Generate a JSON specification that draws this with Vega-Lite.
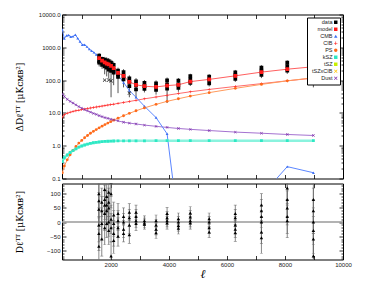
{
  "$schema": "https://vega.github.io/schema/vega-lite/v6.json",
  "background": "white",
  "padding": {"left": 14, "top": 10.5, "right": 5, "bottom": 5},
  "spacing": 0,
  "config": {
    "view": {"stroke": "black", "strokeWidth": 1},
    "axis": {"grid": false, "domain": false, "tickColor": "black", "tickSize": -4, "tickWidth": 0.8, "labelFont": "Liberation Sans", "labelFontSize": 6, "labelColor": "#222", "labelPadding": 6, "labelFlush": false, "titleFont": "DejaVu Serif", "titleFontWeight": "normal", "titleFontSize": 9, "titleColor": "black"}
  },
  "datasets": {
    "d": [
      {"l":1600,"v":560,"lo":470,"hi":660},{"l":1600,"v":460,"lo":380,"hi":550},{"l":1600,"v":380,"lo":300,"hi":460},{"l":1600,"v":340,"lo":260,"hi":420},
      {"l":1700,"v":440,"lo":360,"hi":520},{"l":1700,"v":350,"lo":280,"hi":420},{"l":1700,"v":290,"lo":220,"hi":360},
      {"l":1790,"v":420,"lo":330,"hi":510},{"l":1790,"v":320,"lo":240,"hi":400},{"l":1790,"v":260,"lo":150,"hi":350},
      {"l":1860,"v":400,"lo":310,"hi":490},{"l":1860,"v":310,"lo":230,"hi":390},{"l":1860,"v":240,"lo":130,"hi":330},
      {"l":1930,"v":380,"lo":290,"hi":470},{"l":1930,"v":280,"lo":200,"hi":360},{"l":1930,"v":210,"lo":110,"hi":300},
      {"l":2010,"v":340,"lo":260,"hi":420},{"l":2010,"v":250,"lo":180,"hi":320},{"l":2010,"v":190,"lo":30,"hi":270},
      {"l":2100,"v":290,"lo":210,"hi":370},{"l":2100,"v":210,"lo":140,"hi":280},{"l":2100,"v":170,"lo":70,"hi":240},
      {"l":2250,"v":195,"lo":155,"hi":240},{"l":2250,"v":150,"lo":110,"hi":190},{"l":2250,"v":125,"lo":40,"hi":175},
      {"l":2440,"v":175,"lo":140,"hi":215},{"l":2440,"v":135,"lo":100,"hi":170},{"l":2440,"v":105,"lo":60,"hi":145},
      {"l":2640,"v":112,"lo":85,"hi":140},{"l":2640,"v":88,"lo":62,"hi":112},{"l":2640,"v":65,"lo":30,"hi":100},
      {"l":2870,"v":92,"lo":72,"hi":115},{"l":2870,"v":70,"lo":52,"hi":90},{"l":2870,"v":52,"lo":28,"hi":78},
      {"l":3160,"v":82,"lo":66,"hi":100},{"l":3160,"v":66,"lo":52,"hi":82},{"l":3160,"v":54,"lo":42,"hi":68},
      {"l":3560,"v":80,"lo":64,"hi":98},{"l":3560,"v":64,"lo":50,"hi":80},{"l":3560,"v":50,"lo":36,"hi":64},
      {"l":3940,"v":98,"lo":78,"hi":120},{"l":3940,"v":74,"lo":58,"hi":92},{"l":3940,"v":55,"lo":20,"hi":80},
      {"l":4330,"v":96,"lo":78,"hi":116},{"l":4330,"v":74,"lo":60,"hi":90},{"l":4330,"v":58,"lo":44,"hi":72},
      {"l":4740,"v":132,"lo":110,"hi":156},{"l":4740,"v":104,"lo":86,"hi":124},{"l":4740,"v":82,"lo":66,"hi":98},
      {"l":5390,"v":128,"lo":106,"hi":152},{"l":5390,"v":102,"lo":84,"hi":122},{"l":5390,"v":80,"lo":64,"hi":96},
      {"l":6290,"v":172,"lo":142,"hi":204},{"l":6290,"v":140,"lo":116,"hi":166},{"l":6290,"v":108,"lo":88,"hi":130},
      {"l":7190,"v":240,"lo":200,"hi":285},{"l":7190,"v":195,"lo":160,"hi":232},{"l":7190,"v":145,"lo":115,"hi":175},
      {"l":8080,"v":340,"lo":285,"hi":400},{"l":8080,"v":265,"lo":215,"hi":315},{"l":8080,"v":195,"lo":155,"hi":235},
      {"l":8980,"v":290,"lo":225,"hi":360},{"l":8980,"v":225,"lo":165,"hi":295},{"l":8980,"v":150,"lo":60,"hi":220}
    ],
    "m": [
      {"l":1600,"v":470},{"l":1700,"v":390},{"l":1790,"v":350},{"l":1860,"v":320},{"l":1930,"v":300},{"l":2010,"v":270},{"l":2100,"v":230},{"l":2250,"v":165},{"l":2440,"v":135},{"l":2640,"v":88},{"l":2870,"v":72},{"l":3160,"v":65},{"l":3560,"v":62},{"l":3940,"v":68},{"l":4330,"v":72},{"l":4740,"v":90},{"l":5390,"v":105},{"l":6290,"v":135},{"l":7190,"v":175},{"l":8080,"v":215},{"l":8980,"v":255}
    ],
    "xs": [
      {"l":1790,"v":100},{"l":1930,"v":100},{"l":2010,"v":95},{"l":2640,"v":40}
    ],
    "c": [
      {"s":"CMB","g":1,"l":330,"v":3500},{"s":"CMB","g":1,"l":400,"v":1850},{"s":"CMB","g":1,"l":480,"v":2300},{"s":"CMB","g":1,"l":550,"v":2350},{"s":"CMB","g":1,"l":620,"v":2100},{"s":"CMB","g":1,"l":700,"v":2150},{"s":"CMB","g":1,"l":780,"v":2400},{"s":"CMB","g":1,"l":860,"v":1900},{"s":"CMB","g":1,"l":940,"v":1500},{"s":"CMB","g":1,"l":1020,"v":1200},{"s":"CMB","g":1,"l":1100,"v":1200},{"s":"CMB","g":1,"l":1180,"v":1050},{"s":"CMB","g":1,"l":1260,"v":880},{"s":"CMB","g":1,"l":1340,"v":780},{"s":"CMB","g":1,"l":1420,"v":700},{"s":"CMB","g":1,"l":1500,"v":600},{"s":"CMB","g":1,"l":1580,"v":540},{"s":"CMB","g":1,"l":1660,"v":420},{"s":"CMB","g":1,"l":1740,"v":340},{"s":"CMB","g":1,"l":1820,"v":300},{"s":"CMB","g":1,"l":1900,"v":260},{"s":"CMB","g":1,"l":1980,"v":225},{"s":"CMB","g":1,"l":2100,"v":190},{"s":"CMB","g":1,"l":2250,"v":140},{"s":"CMB","g":1,"l":2440,"v":85},{"s":"CMB","g":1,"l":2640,"v":48},{"s":"CMB","g":1,"l":2870,"v":30},{"s":"CMB","g":1,"l":3160,"v":16},{"s":"CMB","g":1,"l":3560,"v":7.2},{"s":"CMB","g":1,"l":3940,"v":2.3},{"s":"CMB","g":1,"l":4330,"v":0.004},{"s":"CMB","g":2,"l":7190,"v":0.03},{"s":"CMB","g":2,"l":8080,"v":0.23},{"s":"CMB","g":2,"l":8980,"v":0.15},
      {"s":"CIB","l":330,"v":7.5},{"s":"CIB","l":400,"v":8.8},{"s":"CIB","l":500,"v":9.8},{"s":"CIB","l":600,"v":10.5},{"s":"CIB","l":700,"v":11.1},{"s":"CIB","l":800,"v":11.6},{"s":"CIB","l":900,"v":12.1},{"s":"CIB","l":1000,"v":12.6},{"s":"CIB","l":1100,"v":13.1},{"s":"CIB","l":1200,"v":13.6},{"s":"CIB","l":1300,"v":14.1},{"s":"CIB","l":1400,"v":14.6},{"s":"CIB","l":1500,"v":15.1},{"s":"CIB","l":1600,"v":15.6},{"s":"CIB","l":1700,"v":16.1},{"s":"CIB","l":1800,"v":16.7},{"s":"CIB","l":1900,"v":17.3},{"s":"CIB","l":2000,"v":17.9},{"s":"CIB","l":2100,"v":18.5},{"s":"CIB","l":2250,"v":19.5},{"s":"CIB","l":2440,"v":20.8},{"s":"CIB","l":2640,"v":22.3},{"s":"CIB","l":2870,"v":24.2},{"s":"CIB","l":3160,"v":26.8},{"s":"CIB","l":3560,"v":30.5},{"s":"CIB","l":3940,"v":34.5},{"s":"CIB","l":4330,"v":39},{"s":"CIB","l":4740,"v":44},{"s":"CIB","l":5390,"v":52},{"s":"CIB","l":6290,"v":64},{"s":"CIB","l":7190,"v":78},{"s":"CIB","l":8080,"v":95},{"s":"CIB","l":8980,"v":115},
      {"s":"PS","l":330,"v":0.15},{"s":"PS","l":400,"v":0.24},{"s":"PS","l":500,"v":0.37},{"s":"PS","l":600,"v":0.53},{"s":"PS","l":700,"v":0.72},{"s":"PS","l":800,"v":0.95},{"s":"PS","l":900,"v":1.2},{"s":"PS","l":1000,"v":1.45},{"s":"PS","l":1100,"v":1.75},{"s":"PS","l":1200,"v":2.05},{"s":"PS","l":1300,"v":2.4},{"s":"PS","l":1400,"v":2.75},{"s":"PS","l":1500,"v":3.1},{"s":"PS","l":1600,"v":3.5},{"s":"PS","l":1700,"v":3.95},{"s":"PS","l":1800,"v":4.4},{"s":"PS","l":1900,"v":4.9},{"s":"PS","l":2000,"v":5.4},{"s":"PS","l":2100,"v":6.0},{"s":"PS","l":2250,"v":6.9},{"s":"PS","l":2440,"v":8.2},{"s":"PS","l":2640,"v":9.7},{"s":"PS","l":2870,"v":11.6},{"s":"PS","l":3160,"v":14.2},{"s":"PS","l":3560,"v":18.2},{"s":"PS","l":3940,"v":22.5},{"s":"PS","l":4330,"v":27},{"s":"PS","l":4740,"v":32.5},{"s":"PS","l":5390,"v":41.5},{"s":"PS","l":6290,"v":56},{"s":"PS","l":7190,"v":74},{"s":"PS","l":8080,"v":95},{"s":"PS","l":8980,"v":118},
      {"s":"kSZ","l":330,"v":0.33},{"s":"kSZ","l":400,"v":0.43},{"s":"kSZ","l":500,"v":0.52},{"s":"kSZ","l":600,"v":0.62},{"s":"kSZ","l":700,"v":0.71},{"s":"kSZ","l":800,"v":0.8},{"s":"kSZ","l":900,"v":0.9},{"s":"kSZ","l":1000,"v":0.98},{"s":"kSZ","l":1100,"v":1.05},{"s":"kSZ","l":1200,"v":1.12},{"s":"kSZ","l":1300,"v":1.18},{"s":"kSZ","l":1400,"v":1.23},{"s":"kSZ","l":1500,"v":1.27},{"s":"kSZ","l":1600,"v":1.3},{"s":"kSZ","l":1700,"v":1.33},{"s":"kSZ","l":1800,"v":1.35},{"s":"kSZ","l":1900,"v":1.37},{"s":"kSZ","l":2000,"v":1.38},{"s":"kSZ","l":2100,"v":1.39},{"s":"kSZ","l":2250,"v":1.4},{"s":"kSZ","l":2440,"v":1.4},{"s":"kSZ","l":2640,"v":1.41},{"s":"kSZ","l":2870,"v":1.41},{"s":"kSZ","l":3160,"v":1.41},{"s":"kSZ","l":3560,"v":1.42},{"s":"kSZ","l":3940,"v":1.42},{"s":"kSZ","l":4330,"v":1.42},{"s":"kSZ","l":4740,"v":1.42},{"s":"kSZ","l":5390,"v":1.42},{"s":"kSZ","l":6290,"v":1.42},{"s":"kSZ","l":7190,"v":1.42},{"s":"kSZ","l":8080,"v":1.42},{"s":"kSZ","l":8980,"v":1.42},
      {"s":"Dust","l":330,"v":38},{"s":"Dust","l":400,"v":32},{"s":"Dust","l":500,"v":26},{"s":"Dust","l":600,"v":22.5},{"s":"Dust","l":700,"v":20},{"s":"Dust","l":800,"v":17.5},{"s":"Dust","l":900,"v":15.5},{"s":"Dust","l":1000,"v":14},{"s":"Dust","l":1100,"v":12.6},{"s":"Dust","l":1200,"v":11.5},{"s":"Dust","l":1300,"v":10.5},{"s":"Dust","l":1400,"v":9.7},{"s":"Dust","l":1500,"v":9.0},{"s":"Dust","l":1600,"v":8.3},{"s":"Dust","l":1700,"v":7.7},{"s":"Dust","l":1800,"v":7.2},{"s":"Dust","l":1900,"v":6.8},{"s":"Dust","l":2000,"v":6.4},{"s":"Dust","l":2100,"v":6.1},{"s":"Dust","l":2250,"v":5.7},{"s":"Dust","l":2440,"v":5.2},{"s":"Dust","l":2640,"v":4.9},{"s":"Dust","l":2870,"v":4.6},{"s":"Dust","l":3160,"v":4.25},{"s":"Dust","l":3560,"v":3.9},{"s":"Dust","l":3940,"v":3.6},{"s":"Dust","l":4330,"v":3.35},{"s":"Dust","l":4740,"v":3.15},{"s":"Dust","l":5390,"v":2.9},{"s":"Dust","l":6290,"v":2.6},{"s":"Dust","l":7190,"v":2.4},{"s":"Dust","l":8080,"v":2.2},{"s":"Dust","l":8980,"v":2.05}
    ],
    "r": [
      {"l":1590,"v":100,"lo":40,"hi":160},{"l":1590,"v":75,"lo":15,"hi":135},{"l":1590,"v":45,"lo":-15,"hi":105},{"l":1590,"v":-10,"lo":-70,"hi":50},{"l":1590,"v":-40,"lo":-100,"hi":20},{"l":1590,"v":-85,"lo":-145,"hi":-25},
      {"l":1690,"v":70,"lo":20,"hi":120},{"l":1690,"v":40,"lo":-10,"hi":90},{"l":1690,"v":-5,"lo":-60,"hi":50},{"l":1690,"v":-60,"lo":-120,"hi":0},
      {"l":1790,"v":115,"lo":55,"hi":175},{"l":1790,"v":80,"lo":30,"hi":130},{"l":1790,"v":60,"lo":10,"hi":110},{"l":1790,"v":30,"lo":-30,"hi":90},{"l":1790,"v":-20,"lo":-80,"hi":40},
      {"l":1860,"v":90,"lo":40,"hi":140},{"l":1860,"v":60,"lo":10,"hi":110},{"l":1860,"v":40,"lo":-10,"hi":90},{"l":1860,"v":-5,"lo":-55,"hi":45},
      {"l":1930,"v":105,"lo":55,"hi":155},{"l":1930,"v":70,"lo":20,"hi":120},{"l":1930,"v":50,"lo":0,"hi":100},{"l":1930,"v":0,"lo":-50,"hi":50},{"l":1930,"v":-30,"lo":-80,"hi":20},
      {"l":2010,"v":140,"lo":90,"hi":190},{"l":2010,"v":100,"lo":50,"hi":150},{"l":2010,"v":10,"lo":-40,"hi":60},{"l":2010,"v":-20,"lo":-70,"hi":30},{"l":2010,"v":-120,"lo":-170,"hi":-70},
      {"l":2100,"v":25,"lo":-20,"hi":70},{"l":2100,"v":-5,"lo":-50,"hi":40},{"l":2100,"v":-40,"lo":-85,"hi":5},{"l":2100,"v":-65,"lo":-110,"hi":-20},
      {"l":2250,"v":30,"lo":-5,"hi":65},{"l":2250,"v":5,"lo":-30,"hi":40},{"l":2250,"v":-20,"lo":-55,"hi":15},{"l":2250,"v":-50,"lo":-85,"hi":-15},
      {"l":2440,"v":20,"lo":-10,"hi":50},{"l":2440,"v":0,"lo":-30,"hi":30},{"l":2440,"v":-25,"lo":-55,"hi":5},{"l":2440,"v":-40,"lo":-70,"hi":-10},
      {"l":2640,"v":35,"lo":5,"hi":65},{"l":2640,"v":15,"lo":-15,"hi":45},{"l":2640,"v":-10,"lo":-40,"hi":20},{"l":2640,"v":-45,"lo":-75,"hi":-15},
      {"l":2870,"v":35,"lo":10,"hi":60},{"l":2870,"v":20,"lo":-5,"hi":45},{"l":2870,"v":5,"lo":-20,"hi":30},{"l":2870,"v":-5,"lo":-30,"hi":20},
      {"l":3160,"v":5,"lo":-12,"hi":22},{"l":3160,"v":-3,"lo":-20,"hi":14},{"l":3160,"v":-8,"lo":-25,"hi":9},
      {"l":3560,"v":5,"lo":-15,"hi":25},{"l":3560,"v":-10,"lo":-30,"hi":10},{"l":3560,"v":-25,"lo":-45,"hi":-5},{"l":3560,"v":-38,"lo":-58,"hi":-18},
      {"l":3940,"v":30,"lo":8,"hi":52},{"l":3940,"v":15,"lo":-7,"hi":37},{"l":3940,"v":5,"lo":-17,"hi":27},{"l":3940,"v":-3,"lo":-25,"hi":19},
      {"l":4330,"v":12,"lo":-8,"hi":32},{"l":4330,"v":0,"lo":-20,"hi":20},{"l":4330,"v":-12,"lo":-32,"hi":8},{"l":4330,"v":-22,"lo":-42,"hi":-2},
      {"l":4740,"v":32,"lo":10,"hi":54},{"l":4740,"v":18,"lo":-4,"hi":40},{"l":4740,"v":5,"lo":-17,"hi":27},{"l":4740,"v":-3,"lo":-25,"hi":19},
      {"l":5390,"v":12,"lo":-8,"hi":32},{"l":5390,"v":0,"lo":-20,"hi":20},{"l":5390,"v":-20,"lo":-40,"hi":0},{"l":5390,"v":-35,"lo":-55,"hi":-15},
      {"l":6290,"v":30,"lo":0,"hi":60},{"l":6290,"v":15,"lo":-15,"hi":45},{"l":6290,"v":-10,"lo":-40,"hi":20},{"l":6290,"v":-25,"lo":-55,"hi":5},{"l":6290,"v":-38,"lo":-68,"hi":-8},
      {"l":7190,"v":60,"lo":20,"hi":100},{"l":7190,"v":40,"lo":0,"hi":80},{"l":7190,"v":20,"lo":-20,"hi":60},{"l":7190,"v":0,"lo":-40,"hi":40},{"l":7190,"v":-35,"lo":-75,"hi":5},{"l":7190,"v":-55,"lo":-110,"hi":0},
      {"l":8080,"v":120,"lo":60,"hi":180},{"l":8080,"v":80,"lo":20,"hi":140},{"l":8080,"v":50,"lo":-10,"hi":110},{"l":8080,"v":20,"lo":-40,"hi":80},{"l":8080,"v":5,"lo":-55,"hi":65},
      {"l":8980,"v":80,"lo":0,"hi":160},{"l":8980,"v":40,"lo":-40,"hi":120},{"l":8980,"v":0,"lo":-80,"hi":80},{"l":8980,"v":-30,"lo":-110,"hi":50},{"l":8980,"v":-60,"lo":-140,"hi":20},{"l":8980,"v":-120,"lo":-200,"hi":-40}
    ]
  },
  "vconcat": [
    {
      "width": 281,
      "height": 164,
      "layer": [
        {
          "data": {"name": "d"},
          "mark": {"type": "rule", "color": "#555555", "strokeWidth": 1, "clip": true},
          "encoding": {
            "x": {"field": "l", "type": "quantitative", "scale": {"domain": [320, 10000], "nice": false, "zero": false}, "axis": {"orient": "bottom", "labels": false, "title": null, "values": [1000,2000,3000,4000,5000,6000,7000,8000,9000]}},
            "y": {"field": "lo", "type": "quantitative", "scale": {"type": "log", "domain": [0.1, 10000], "nice": false}, "axis": {"orient": "left", "values": [0.1,1,10,100,1000,10000], "labelExpr": "format(datum.value, '.1f')", "title": "ΔDℓᵀᵀ [μKᴄᴍʙ²]", "titlePadding": 14}},
            "y2": {"field": "hi"}
          }
        },
        {
          "data": {"name": "c"},
          "transform": [{"filter": "datum.s == 'CIB' || datum.s == 'PS' || datum.s == 'Dust'"}],
          "mark": {"type": "line", "strokeWidth": 1, "clip": true},
          "encoding": {
            "x": {"field": "l", "type": "quantitative", "scale": {"domain": [320, 10000], "nice": false, "zero": false}, "axis": {"orient": "top", "labels": false, "title": null, "values": [1000,2000,3000,4000,5000,6000,7000,8000,9000]}},
            "y": {"field": "v", "type": "quantitative", "scale": {"type": "log", "domain": [0.1, 10000], "nice": false}, "axis": {"orient": "right", "labels": false, "title": null, "values": [0.1,1,10,100,1000,10000]}},
            "stroke": {"field": "s", "type": "nominal", "scale": {"domain": ["CIB","PS","Dust"], "range": ["#ff6b6b","#ff9a5c","#a472d0"]}, "legend": null}
          }
        },
        {
          "data": {"name": "c"},
          "transform": [{"filter": "datum.s == 'CMB'"}],
          "mark": {"type": "line", "strokeWidth": 1, "color": "#5b86ff", "clip": true},
          "encoding": {
            "x": {"field": "l", "type": "quantitative", "axis": null},
            "y": {"field": "v", "type": "quantitative", "axis": null},
            "detail": {"field": "g", "type": "nominal"}
          }
        },
        {
          "data": {"name": "c"},
          "transform": [{"filter": "datum.s == 'kSZ'"}],
          "mark": {"type": "line", "strokeWidth": 2.4, "color": "#8af3de", "clip": true},
          "encoding": {
            "x": {"field": "l", "type": "quantitative", "axis": null},
            "y": {"field": "v", "type": "quantitative", "axis": {"orient": "left", "labels": false, "title": null, "tickSize": -2, "values": [0.2,0.3,0.4,0.5,0.6,0.7,0.8,0.9,2,3,4,5,6,7,8,9,20,30,40,50,60,70,80,90,200,300,400,500,600,700,800,900,2000,3000,4000,5000,6000,7000,8000,9000]}}
          }
        },
        {
          "data": {"name": "m"},
          "mark": {"type": "line", "strokeWidth": 1, "color": "#ff6060", "clip": true},
          "encoding": {
            "x": {"field": "l", "type": "quantitative", "axis": null},
            "y": {"field": "v", "type": "quantitative", "axis": {"orient": "right", "labels": false, "title": null, "tickSize": -2, "values": [0.2,0.3,0.4,0.5,0.6,0.7,0.8,0.9,2,3,4,5,6,7,8,9,20,30,40,50,60,70,80,90,200,300,400,500,600,700,800,900,2000,3000,4000,5000,6000,7000,8000,9000]}}
          }
        },
        {
          "data": {"name": "c"},
          "mark": {"type": "point", "filled": true, "size": 8, "opacity": 1, "clip": true},
          "encoding": {
            "x": {"field": "l", "type": "quantitative", "axis": null},
            "y": {"field": "v", "type": "quantitative", "axis": null},
            "color": {"field": "s", "type": "nominal", "scale": {"domain": ["data","model","CMB","CIB","PS","kSZ","tSZ","tSZxCIB","Dust"], "range": ["#000000","#ff1a1a","#3d6ff2","#ff1a1a","#ff6a1a","#2ee8c4","#c8f000","#ffc400","#7a2aa8"]},
              "legend": {"title": null, "orient": "top-right", "offset": 3, "padding": 2, "strokeColor": "black", "fillColor": "white", "labelFont": "Liberation Sans", "labelFontSize": 5.5, "labelColor": "#222", "labelAlign": "right", "labelOffset": -6, "symbolOffset": 24, "symbolSize": 12, "rowPadding": -1.2, "labelLimit": 40,
                "encoding": {"symbols": {"update": {
                  "fill": {"signal": "indexof(['CMB','PS','kSZ','tSZ'], datum.value) >= 0 ? 'transparent' : (datum.value == 'data' ? '#000000' : (datum.value == 'model' || datum.value == 'CIB') ? '#ff1a1a' : datum.value == 'tSZxCIB' ? '#ffc400' : '#7a2aa8')"},
                  "stroke": {"signal": "datum.value == 'data' ? '#000000' : (datum.value == 'model' || datum.value == 'CIB') ? '#ff1a1a' : datum.value == 'CMB' ? '#3d6ff2' : datum.value == 'PS' ? '#ff6a1a' : datum.value == 'kSZ' ? '#2ee8c4' : datum.value == 'tSZ' ? '#c8f000' : datum.value == 'tSZxCIB' ? '#ffc400' : '#7a2aa8'"},
                  "strokeWidth": {"signal": "indexof(['CIB','tSZxCIB','Dust','data','model'], datum.value) >= 0 ? 0.2 : 0.9"},
                  "opacity": {"value": 1}
                }}}
              }},
            "shape": {"field": "s", "type": "nominal", "scale": {"domain": ["data","model","CMB","CIB","PS","kSZ","tSZ","tSZxCIB","Dust"], "range": ["square","square","triangle-up","M-1,-0.18L-0.18,-0.18L-0.18,-1L0.18,-1L0.18,-0.18L1,-0.18L1,0.18L0.18,0.18L0.18,1L-0.18,1L-0.18,0.18L-1,0.18Z","circle","square","square","M-1,-0.75L-0.75,-1L0,-0.25L0.75,-1L1,-0.75L0.25,0L1,0.75L0.75,1L0,0.25L-0.75,1L-1,0.75L-0.25,0Z","M-1,-0.75L-0.75,-1L0,-0.25L0.75,-1L1,-0.75L0.25,0L1,0.75L0.75,1L0,0.25L-0.75,1L-1,0.75L-0.25,0Z"]},
              "legend": {"title": null, "orient": "top-right", "offset": 3, "padding": 2, "strokeColor": "black", "fillColor": "white", "labelFont": "Liberation Sans", "labelFontSize": 5.5, "labelColor": "#222", "labelAlign": "right", "labelOffset": -6, "symbolOffset": 24, "symbolSize": 12, "rowPadding": -1.2, "labelLimit": 40,
                "encoding": {"symbols": {"update": {
                  "fill": {"signal": "indexof(['CMB','PS','kSZ','tSZ'], datum.value) >= 0 ? 'transparent' : (datum.value == 'data' ? '#000000' : (datum.value == 'model' || datum.value == 'CIB') ? '#ff1a1a' : datum.value == 'tSZxCIB' ? '#ffc400' : '#7a2aa8')"},
                  "stroke": {"signal": "datum.value == 'data' ? '#000000' : (datum.value == 'model' || datum.value == 'CIB') ? '#ff1a1a' : datum.value == 'CMB' ? '#3d6ff2' : datum.value == 'PS' ? '#ff6a1a' : datum.value == 'kSZ' ? '#2ee8c4' : datum.value == 'tSZ' ? '#c8f000' : datum.value == 'tSZxCIB' ? '#ffc400' : '#7a2aa8'"},
                  "strokeWidth": {"signal": "indexof(['CIB','tSZxCIB','Dust','data','model'], datum.value) >= 0 ? 0.2 : 0.9"},
                  "opacity": {"value": 1}
                }}}
              }}
          }
        },
        {
          "data": {"name": "d"},
          "mark": {"type": "point", "filled": true, "size": 14, "opacity": 1, "clip": true},
          "encoding": {
            "x": {"field": "l", "type": "quantitative", "axis": null},
            "y": {"field": "v", "type": "quantitative", "axis": null},
            "color": {"datum": "data", "type": "nominal"},
            "shape": {"datum": "data", "type": "nominal"}
          }
        },
        {
          "data": {"name": "xs"},
          "mark": {"type": "point", "filled": true, "size": 14, "opacity": 1, "color": "#222222", "shape": "M-1,-0.75L-0.75,-1L0,-0.25L0.75,-1L1,-0.75L0.25,0L1,0.75L0.75,1L0,0.25L-0.75,1L-1,0.75L-0.25,0Z", "clip": true},
          "encoding": {
            "x": {"field": "l", "type": "quantitative", "axis": null},
            "y": {"field": "v", "type": "quantitative", "axis": null}
          }
        },
        {
          "data": {"name": "m"},
          "mark": {"type": "point", "filled": true, "size": 14, "opacity": 1, "clip": true},
          "encoding": {
            "x": {"field": "l", "type": "quantitative", "axis": null},
            "y": {"field": "v", "type": "quantitative", "axis": null},
            "color": {"datum": "model", "type": "nominal"},
            "shape": {"datum": "model", "type": "nominal"}
          }
        }
      ],
      "resolve": {"axis": {"x": "independent", "y": "independent"}}
    },
    {
      "width": 281,
      "height": 76,
      "layer": [
        {
          "data": {"values": [{}]},
          "mark": {"type": "rule", "color": "#9a9a9a", "strokeWidth": 1.6},
          "encoding": {
            "y": {"datum": 0, "type": "quantitative", "scale": {"domain": [-132, 136], "nice": false, "zero": false}, "axis": {"orient": "left", "values": [-100,-50,0,50,100], "format": "d", "title": "Dℓᵀᵀ [μKᴄᴍʙ²]", "titlePadding": 22}}
          }
        },
        {
          "data": {"name": "r"},
          "mark": {"type": "rule", "color": "#6a6a6a", "strokeWidth": 0.8, "clip": true},
          "encoding": {
            "x": {"field": "l", "type": "quantitative", "scale": {"domain": [320, 10000], "nice": false, "zero": false}, "axis": {"orient": "bottom", "values": [1000,2000,3000,4000,5000,6000,7000,8000,9000,10000], "labelExpr": "datum.value % 2000 == 0 ? format(datum.value, 'd') : ''", "title": "ℓ", "titleFontStyle": "italic", "titleFontSize": 12, "titlePadding": 1}},
            "y": {"field": "lo", "type": "quantitative", "scale": {"domain": [-132, 136], "nice": false, "zero": false}, "axis": {"orient": "right", "labels": false, "title": null, "values": [-100,-50,0,50,100]}},
            "y2": {"field": "hi"}
          }
        },
        {
          "data": {"name": "r"},
          "mark": {"type": "tick", "orient": "horizontal", "size": 3, "thickness": 0.7, "color": "#6a6a6a", "clip": true},
          "encoding": {
            "x": {"field": "l", "type": "quantitative", "axis": {"orient": "top", "labels": false, "title": null, "values": [1000,2000,3000,4000,5000,6000,7000,8000,9000]}},
            "y": {"field": "lo", "type": "quantitative", "axis": {"orient": "left", "labels": false, "title": null, "tickSize": -2, "values": [-130,-120,-110,-90,-80,-70,-60,-40,-30,-20,-10,10,20,30,40,60,70,80,90,110,120,130]}}
          }
        },
        {
          "data": {"name": "r"},
          "mark": {"type": "tick", "orient": "horizontal", "size": 3, "thickness": 0.7, "color": "#6a6a6a", "clip": true},
          "encoding": {
            "x": {"field": "l", "type": "quantitative", "axis": null},
            "y": {"field": "hi", "type": "quantitative", "axis": {"orient": "right", "labels": false, "title": null, "tickSize": -2, "values": [-130,-120,-110,-90,-80,-70,-60,-40,-30,-20,-10,10,20,30,40,60,70,80,90,110,120,130]}}
          }
        },
        {
          "data": {"name": "r"},
          "mark": {"type": "point", "filled": true, "shape": "triangle-up", "size": 12, "color": "black", "opacity": 1, "clip": true},
          "encoding": {
            "x": {"field": "l", "type": "quantitative", "axis": null},
            "y": {"field": "v", "type": "quantitative", "axis": null}
          }
        }
      ],
      "resolve": {"axis": {"x": "independent", "y": "independent"}}
    }
  ]
}
